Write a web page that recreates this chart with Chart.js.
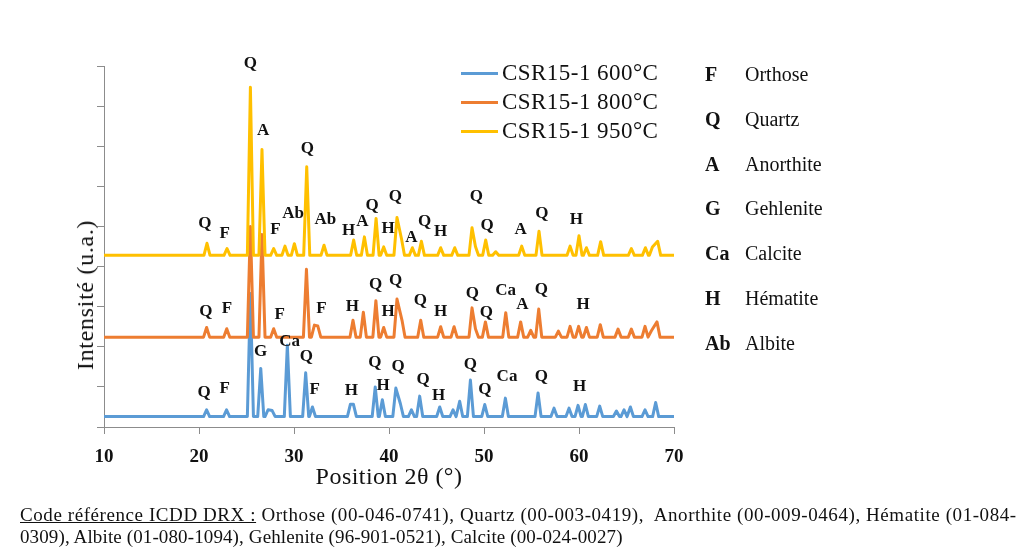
<!DOCTYPE html>
<html>
<head>
<meta charset="utf-8">
<script src="https://cdn.jsdelivr.net/npm/chart.js@4.4.1/dist/chart.umd.min.js"></script>
<style>
  body { margin: 0; background: #fff; }
  #wrap { position: relative; width: 1019px; height: 548px; overflow: hidden; font-family: "Liberation Serif", "Times New Roman", serif; color: #111; }
  #wrap canvas { position: absolute; left: 0; top: 0; }
  .txt { position: absolute; white-space: pre; }
</style>
</head>
<body>
<div id="wrap">
  <canvas id="xrd" width="1019" height="548"></canvas>
</div>
<script>
// 2theta range and ticks
var xTicks = [10, 20, 30, 40, 50, 60, 70];
var yMax = 9;

var seriesNames = ["CSR15-1 600°C", "CSR15-1 800°C", "CSR15-1 950°C"];
var seriesColors = ["#5B9BD5", "#ED7D31", "#FFC000"];
var baselines = [0.26, 2.24, 4.28];

// peaks (2theta, intensity in axis units)
var bluePos = [20.8, 22.9, 25.41, 26.5, 27.27, 27.7, 29.3, 31.23, 31.94, 35.94, 36.25, 38.55, 39.3, 40.72, 41.2, 42.36, 43.23, 45.34, 46.74, 47.44, 48.57, 50.08, 52.25, 55.69, 57.37, 58.95, 59.9, 60.67, 62.18, 63.94, 64.74, 65.41, 66.95, 68.07];
var blueInt = [0.43, 0.43, 3.33, 1.46, 0.43, 0.41, 2.04, 1.35, 0.50, 0.57, 0.57, 1.0, 0.68, 0.97, 0.58, 0.43, 0.77, 0.50, 0.43, 0.64, 1.17, 0.56, 0.72, 0.85, 0.47, 0.47, 0.54, 0.56, 0.52, 0.40, 0.43, 0.50, 0.43, 0.61];

var orangePos = [20.8, 22.92, 25.41, 26.63, 27.86, 31.31, 32.15, 32.5, 36.21, 37.3, 38.62, 39.44, 40.84, 41.37, 43.34, 45.44, 46.85, 48.74, 49.1, 50.15, 52.29, 53.86, 54.92, 55.76, 57.83, 59.06, 59.96, 60.78, 62.24, 64.11, 65.51, 66.95, 67.62, 68.21];
var orangeInt = [2.48, 2.45, 5.0, 4.8, 2.45, 3.93, 2.54, 2.52, 2.66, 2.86, 3.15, 2.48, 3.19, 2.66, 2.66, 2.50, 2.50, 2.97, 2.45, 2.62, 2.85, 2.62, 2.41, 2.94, 2.39, 2.51, 2.51, 2.48, 2.55, 2.44, 2.44, 2.51, 2.40, 2.62];

var yellowPos = [20.84, 22.95, 25.41, 26.63, 27.86, 29.05, 30.04, 31.34, 33.16, 36.28, 37.41, 38.64, 39.44, 40.84, 41.31, 42.46, 43.41, 45.44, 46.92, 48.74, 49.1, 50.18, 51.23, 53.97, 55.79, 59.06, 60.0, 60.78, 62.28, 65.51, 66.99, 67.73, 68.28];
var yellowInt = [4.58, 4.45, 8.47, 6.92, 4.45, 4.51, 4.57, 6.49, 4.53, 4.66, 4.74, 5.2, 4.49, 5.22, 4.70, 4.47, 4.63, 4.47, 4.47, 4.97, 4.50, 4.66, 4.37, 4.51, 4.88, 4.51, 4.77, 4.47, 4.62, 4.45, 4.47, 4.49, 4.63];

// phase letters above the peaks
var blueLabText = ["Q", "F", "G", "Ca", "Q", "F", "H", "Q", "H", "Q", "Q", "H", "Q", "Q", "Ca", "Q", "H"];
var blueLabPos = [20.53, 22.71, 26.49, 29.55, 31.3, 32.18, 36.04, 38.5, 39.37, 40.95, 43.58, 45.23, 48.57, 50.08, 52.42, 56.04, 60.07];
var blueLabInt = [0.85, 0.96, 1.87, 2.12, 1.75, 0.94, 0.90, 1.6, 1.04, 1.51, 1.17, 0.79, 1.56, 0.94, 1.25, 1.25, 1.0];

var orangeLabText = ["Q", "F", "F", "F", "H", "Q", "H", "Q", "Q", "H", "Q", "Q", "Ca", "A", "Q", "H"];
var orangeLabPos = [20.71, 22.95, 28.49, 32.88, 36.14, 38.6, 39.9, 40.7, 43.3, 45.44, 48.78, 50.25, 52.28, 54.04, 56.04, 60.42];
var orangeLabInt = [2.87, 2.95, 2.81, 2.94, 2.99, 3.56, 2.87, 3.64, 3.16, 2.87, 3.33, 2.84, 3.39, 3.05, 3.43, 3.04];

var yellowLabText = ["Q", "F", "Q", "A", "F", "Ab", "Q", "Ab", "H", "A", "Q", "H", "Q", "A", "Q", "H", "Q", "Q", "A", "Q", "H"];
var yellowLabPos = [20.62, 22.71, 25.41, 26.74, 28.04, 29.9, 31.41, 33.3, 35.76, 37.2, 38.21, 39.9, 40.67, 42.36, 43.76, 45.44, 49.2, 50.32, 53.86, 56.1, 59.73];
var yellowLabInt = [5.07, 4.83, 9.05, 7.40, 4.92, 5.31, 6.93, 5.18, 4.89, 5.12, 5.53, 4.95, 5.74, 4.72, 5.12, 4.87, 5.74, 5.03, 4.91, 5.31, 5.17];

var phaseSymbols = ["F", "Q", "A", "G", "Ca", "H", "Ab"];
var phaseNames = ["Orthose", "Quartz", "Anorthite", "Gehlenite", "Calcite", "Hématite", "Albite"];

var captionLines = [
    ["Code référence ICDD DRX :", " Orthose (00-046-0741), Quartz (00-003-0419),  Anorthite (00-009-0464), Hématite (01-084-"],
    ["", "0309), Albite (01-080-1094), Gehlenite (96-901-0521), Calcite (00-024-0027)"]
];

var FONT = '"Liberation Serif", "Times New Roman", serif';
var axisGrey = "#8c8c8c";

// turn the peak list into a polyline: baseline foot, top, baseline foot
function buildTrace(pos, val, base) {
    var hw = 0.32
    var pts = [{ x: 10, y: base }]
    pos.forEach((p, i) => {
        if (i == 0 || p - pos[i - 1] > 2 * hw) pts.push({ x: p - hw, y: base })
        pts.push({ x: p, y: val[i] })
        if (i == pos.length - 1 || pos[i + 1] - p > 2 * hw) pts.push({ x: p + hw, y: base })
    })
    pts.push({ x: 70, y: base })
    return pts
}

var traces = [
    buildTrace(bluePos, blueInt, baselines[0]),
    buildTrace(orangePos, orangeInt, baselines[1]),
    buildTrace(yellowPos, yellowInt, baselines[2])
];
var labelSets = [
    { text: blueLabText, x: blueLabPos, y: blueLabInt },
    { text: orangeLabText, x: orangeLabPos, y: orangeLabInt },
    { text: yellowLabText, x: yellowLabPos, y: yellowLabInt }
];

var peakLabels = {
    id: "peakLabels",
    afterDatasetsDraw(chart) {
        var ctx = chart.ctx, xs = chart.scales.x, ys = chart.scales.y
        ctx.save()
        ctx.font = "bold 17px " + FONT
        ctx.fillStyle = "#111"
        ctx.textAlign = "center"
        ctx.textBaseline = "middle"
        labelSets.forEach(set => {
            set.text.forEach((t, i) => {
                ctx.fillText(t, xs.getPixelForValue(set.x[i]), ys.getPixelForValue(set.y[i]))
            })
        })
        ctx.restore()
    }
};

var chart = new Chart(document.getElementById("xrd").getContext("2d"), {
    type: "line",
    data: {
        datasets: traces.map((t, i) => ({
            label: seriesNames[i],
            data: t,
            borderColor: seriesColors[i],
            backgroundColor: seriesColors[i],
            order: 2 - i
        }))
    },
    options: {
        responsive: false,
        animation: false,
        devicePixelRatio: 1,
        layout: { padding: { left: 90, right: 345, top: 66, bottom: 61 } },
        elements: {
            point: { radius: 0 },
            line: { borderWidth: 3, tension: 0, borderJoinStyle: "round", borderCapStyle: "round" }
        },
        plugins: { legend: { display: false }, tooltip: { enabled: false } },
        scales: {
            x: {
                type: "linear", min: xTicks[0], max: xTicks[xTicks.length - 1],
                afterBuildTicks: s => { s.ticks = xTicks.map(v => ({ value: v })) },
                ticks: { color: "#111", font: { family: FONT, size: 19, weight: "bold" }, padding: 12, maxRotation: 0 },
                grid: { drawOnChartArea: false, tickLength: 7, color: axisGrey },
                border: { color: axisGrey, width: 1 },
                afterFit: s => { s.height = 60 }
            },
            y: {
                min: 0, max: yMax,
                ticks: { stepSize: 1, display: false },
                grid: { drawOnChartArea: false, tickLength: 7, color: axisGrey },
                border: { color: axisGrey, width: 1 },
                afterFit: s => { s.width = 14 }
            }
        }
    },
    plugins: [peakLabels]
});

// html texts around the chart
var wrap = document.getElementById("wrap")
function addText(str, css) {
    var el = document.createElement("div")
    el.className = "txt"
    el.textContent = str
    Object.assign(el.style, css)
    wrap.appendChild(el)
    return el
}
function fitWidth(el, target) {
    el.style.letterSpacing = "0px"
    var w = el.offsetWidth
    el.style.letterSpacing = ((target - w) / el.textContent.length) + "px"
}

// series legend inside the plot
chart.data.datasets.forEach((ds, i) => {
    var cy = 73 + i * 29.2
    var line = document.createElement("div")
    Object.assign(line.style, { position: "absolute", left: "461px", top: (cy - 1.5) + "px", width: "37px", height: "3px", background: ds.borderColor })
    wrap.appendChild(line)
    var t = addText(ds.label, { left: "502px", top: (cy - 13) + "px", fontSize: "23px", lineHeight: "26px" })
    fitWidth(t, 156)
})

// axis titles
var xt = addText("Position 2θ (°)", { left: "389px", top: "462px", fontSize: "24px", lineHeight: "28px" })
fitWidth(xt, 147)
xt.style.transform = "translateX(-50%)"

var yt = addText("Intensité (u.a.)", { left: "84.5px", top: "295px", fontSize: "24px", lineHeight: "28px" })
fitWidth(yt, 150)
yt.style.transform = "translate(-50%, -50%) rotate(-90deg)"

// phase key on the right
phaseSymbols.forEach((s, i) => {
    var cy = 74 + i * 44.75
    addText(s, { left: "705px", top: (cy - 12) + "px", fontSize: "20px", lineHeight: "24px", fontWeight: "bold" })
    addText(phaseNames[i], { left: "745px", top: (cy - 12) + "px", fontSize: "20px", lineHeight: "24px" })
})

// reference caption below
var capTargets = [997, 603]
captionLines.forEach((ln, i) => {
    var el = addText("", { left: "20px", top: (504 + i * 21.5) + "px", fontSize: "19px", lineHeight: "22px" })
    if (ln[0]) {
        var u = document.createElement("u")
        u.textContent = ln[0]
        el.appendChild(u)
    }
    el.appendChild(document.createTextNode(ln[1]))
    fitWidth(el, capTargets[i])
})
</script>
</body>
</html>
